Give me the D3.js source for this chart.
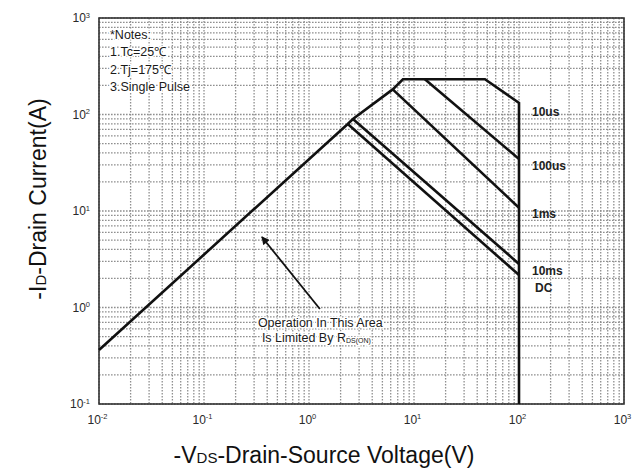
<!DOCTYPE html>
<html>
<head>
<meta charset="utf-8">
<script src="https://cdn.jsdelivr.net/npm/d3@7"></script>
<style>
  body { margin: 0; background: #fff; }
  text { font-family: Arial, "Liberation Sans", Helvetica, sans-serif; }
</style>
</head>
<body>
<div id="chart"></div>
<script>
// safe operating area
var vdsDecades = [1e-2, 1e-1, 1e0, 1e1, 1e2, 1e3];
var idDecades  = [1e-1, 1e0, 1e1, 1e2, 1e3];

// outer boundary: Rds(on) limit, current limit, 10us pulse, Vds limit
var envelope = [[0.01, 0.363], [2.34, 79.7], [2.62, 89.7], [6.27, 182], [7.85, 232],
                [47.4, 232], [100, 132], [100, 0.1]];
var line100us = [[12.7, 232], [100, 34.6]];
var line1ms   = [[6.27, 182], [100, 10.8]];
var line10ms  = [[2.62, 89.7], [100, 2.83]];
var lineDC    = [[2.34, 79.7], [100, 2.17]];

var pulseLabels  = ["10us", "100us", "1ms", "10ms", "DC"];
var labelCurrent = [106, 29.2, 9.3, 2.39, 1.59];

var notes = ["*Notes:", "1.Tc=25\u2103", "2.Tj=175\u2103", "3.Single Pulse"];
var arrowFrom = [1.27, 0.964], arrowTo = [0.356, 5.38];

var width = 635, height = 475
  , margin = { top: 18, right: 11, bottom: 71, left: 99 }
  , svg = d3.select("#chart").append("svg")
            .attr("width", width).attr("height", height);

var x = d3.scaleLog().domain([1e-2, 1e3]).range([margin.left, width - margin.right]);
var y = d3.scaleLog().domain([1e-1, 1e3]).range([height - margin.bottom, margin.top]);

// dotted grid at every 1..9 multiple
var grid = svg.append("g")
  .attr("stroke", "#8f8f8f")
  .attr("stroke-width", 1.3)
  .attr("stroke-dasharray", "1.6,1.4");
grid.selectAll(".gx").data(x.ticks()).enter().append("line")
  .attr("x1", function(d) { return x(d); }).attr("x2", function(d) { return x(d); })
  .attr("y1", y.range()[1]).attr("y2", y.range()[0]);
grid.selectAll(".gy").data(y.ticks()).enter().append("line")
  .attr("y1", function(d) { return y(d); }).attr("y2", function(d) { return y(d); })
  .attr("x1", x.range()[0]).attr("x2", x.range()[1]);

// frame
svg.append("rect")
  .attr("x", x.range()[0]).attr("y", y.range()[1])
  .attr("width", x.range()[1] - x.range()[0])
  .attr("height", y.range()[0] - y.range()[1])
  .attr("fill", "none").attr("stroke", "#333").attr("stroke-width", 1.6);

// decade labels as 10^n
function powerLabel(sel) {
  sel.selectAll(".tick text").each(function(d) {
    var t = d3.select(this).text("");
    t.append("tspan").text("10");
    t.append("tspan").attr("font-size", "7.5px").attr("dy", "-0.6em")
      .text(Math.round(Math.log10(d)));
  });
  sel.select(".domain").remove();
  sel.selectAll(".tick line").remove();
}

svg.append("g")
  .attr("transform", "translate(-2," + (y.range()[0] + 8) + ")")
  .call(d3.axisBottom(x).tickValues(vdsDecades).tickSize(0))
  .call(powerLabel)
  .selectAll("text").attr("font-size", "12px").attr("fill", "#2a2a2a");

svg.append("g")
  .attr("transform", "translate(" + (x.range()[0] - 10) + ",0)")
  .call(d3.axisLeft(y).tickValues(idDecades).tickSize(0))
  .call(powerLabel)
  .selectAll("text").attr("font-size", "12px").attr("fill", "#2a2a2a")
  .attr("text-anchor", "end").attr("dx", "4");

// SOA curves
var line = d3.line().x(function(d) { return x(d[0]); }).y(function(d) { return y(d[1]); });
[envelope, line100us, line1ms, line10ms, lineDC].forEach(function(pts) {
  svg.append("path").datum(pts)
    .attr("d", line)
    .attr("fill", "none").attr("stroke", "#111")
    .attr("stroke-width", 2.6).attr("stroke-linejoin", "miter");
});

svg.selectAll(".plabel").data(pulseLabels).enter().append("text")
  .attr("x", function(d, i) { return x(100) + (d === "DC" ? 16 : 13); })
  .attr("y", function(d, i) { return y(labelCurrent[i]); })
  .attr("dy", "0.35em")
  .attr("font-size", "12px").attr("font-weight", "bold").attr("fill", "#222")
  .text(function(d) { return d; });

// notes in the corner
svg.append("g").selectAll("text").data(notes).enter().append("text")
  .attr("x", x.range()[0] + 11)
  .attr("y", function(d, i) { return y.range()[1] + 21 + i * 17.3; })
  .attr("font-size", "12.5px").attr("fill", "#1a1a1a")
  .attr("stroke", "#fff").attr("stroke-width", 3).attr("paint-order", "stroke")
  .text(function(d) { return d; });

// arrow annotation
svg.append("defs").append("marker")
  .attr("id", "head").attr("viewBox", "0 0 10 10")
  .attr("refX", 9).attr("refY", 5)
  .attr("markerWidth", 5).attr("markerHeight", 4.5)
  .attr("orient", "auto")
  .append("path").attr("d", "M0,0L10,5L0,10z").attr("fill", "#111");

svg.append("line")
  .attr("x1", x(arrowFrom[0])).attr("y1", y(arrowFrom[1]))
  .attr("x2", x(arrowTo[0])).attr("y2", y(arrowTo[1]))
  .attr("stroke", "#111").attr("stroke-width", 1.8)
  .attr("marker-end", "url(#head)");

var note = svg.append("text")
  .attr("font-size", "12.5px").attr("fill", "#1a1a1a")
  .attr("stroke", "#fff").attr("stroke-width", 3).attr("paint-order", "stroke");
note.append("tspan")
  .attr("x", x(arrowFrom[0]) - 62).attr("y", y(arrowFrom[1]) + 18)
  .text("Operation In This Area");
note.append("tspan")
  .attr("x", x(arrowFrom[0]) - 58).attr("y", y(arrowFrom[1]) + 33)
  .text("Is Limited By R");
note.append("tspan").attr("font-size", "7px").attr("dy", "1")
  .text("DS(ON)");

// axis titles
var xt = svg.append("text")
  .attr("x", 324).attr("y", height - 12)
  .attr("text-anchor", "middle").attr("font-size", "23px").attr("fill", "#111");
xt.append("tspan").text("-V");
xt.append("tspan").attr("font-size", "15px").text("DS");
xt.append("tspan").text("-Drain-Source Voltage(V)");

var yt = svg.append("text")
  .attr("transform", "translate(46,199) rotate(-90)")
  .attr("text-anchor", "middle").attr("font-size", "23px").attr("fill", "#111");
yt.append("tspan").text("-I");
yt.append("tspan").attr("font-size", "15px").text("D");
yt.append("tspan").text("-Drain Current(A)");
</script>
</body>
</html>
